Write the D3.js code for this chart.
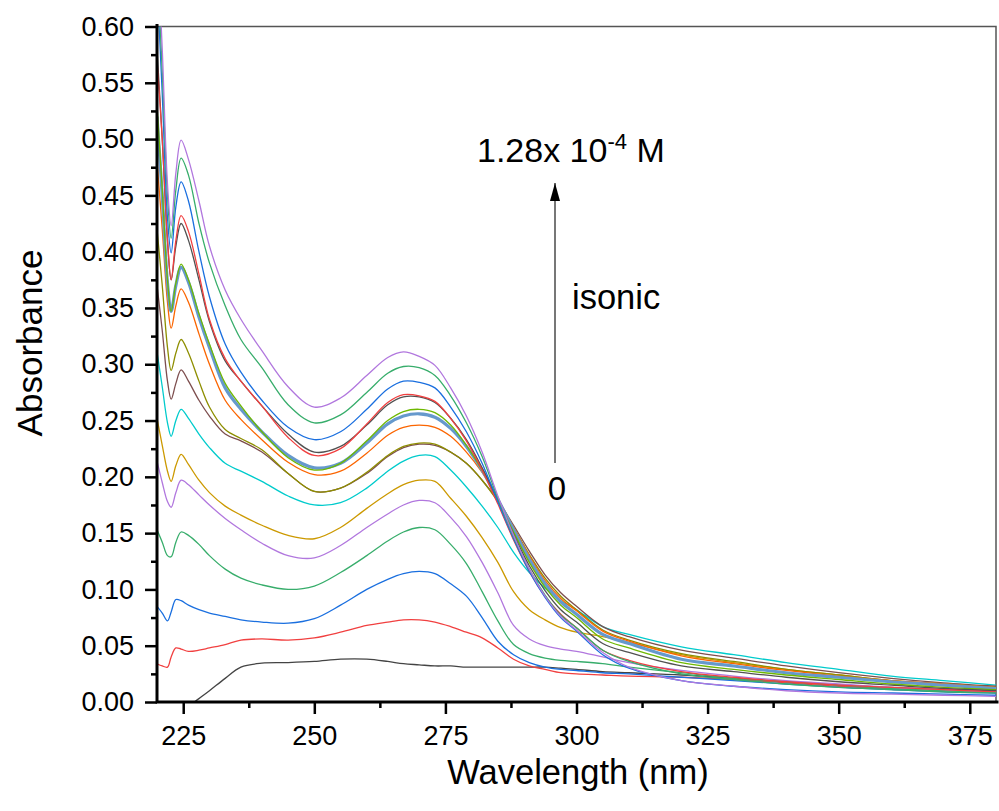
<!DOCTYPE html>
<html>
<head>
<meta charset="utf-8">
<script src="https://cdn.jsdelivr.net/npm/d3@7"></script>
<style>
  html, body { margin: 0; padding: 0; background: #fff; }
  svg { display: block; font-family: "Liberation Sans", Arial, sans-serif; }
</style>
</head>
<body>
<div id="chart"></div>
<script>
// Wavelength grid (nm) shared by every spectrum
const wavelengths = [220, 221, 222, 222.7, 223.6, 224.6, 226, 228, 230, 233, 236, 240, 245, 250, 255, 260, 264, 267, 270, 273, 276, 279, 282, 285, 288, 291, 294, 297, 300, 305, 310, 320, 330, 340, 350, 360, 370, 380];

// Absorbance spectra, lowest concentration (0) first
const s01 = [-0.025, -0.021, -0.018, -0.015, -0.012, -0.008, -0.004, 0.003, 0.010, 0.021, 0.031, 0.0345, 0.035, 0.036, 0.038, 0.038, 0.036, 0.034, 0.033, 0.032, 0.032, 0.031, 0.031, 0.031, 0.031, 0.031, 0.031, 0.030, 0.029, 0.027, 0.026, 0.024, 0.021, 0.018, 0.015, 0.013, 0.011, 0.010];
const s02 = [0.034, 0.032, 0.031, 0.040, 0.048, 0.047, 0.045, 0.046, 0.048, 0.051, 0.055, 0.056, 0.055, 0.057, 0.062, 0.068, 0.071, 0.073, 0.073, 0.071, 0.067, 0.062, 0.057, 0.048, 0.038, 0.032, 0.029, 0.026, 0.025, 0.024, 0.023, 0.022, 0.020, 0.017, 0.014, 0.012, 0.011, 0.010];
const s03 = [0.085, 0.079, 0.072, 0.080, 0.091, 0.090, 0.086, 0.082, 0.079, 0.076, 0.073, 0.071, 0.070, 0.074, 0.086, 0.100, 0.109, 0.114, 0.116, 0.114, 0.105, 0.094, 0.075, 0.054, 0.042, 0.035, 0.031, 0.029, 0.028, 0.026, 0.025, 0.022, 0.019, 0.016, 0.013, 0.011, 0.009, 0.008];
const s04 = [0.153, 0.142, 0.130, 0.129, 0.142, 0.151, 0.148, 0.140, 0.130, 0.118, 0.110, 0.104, 0.100, 0.103, 0.115, 0.130, 0.143, 0.151, 0.155, 0.153, 0.140, 0.123, 0.098, 0.072, 0.051, 0.043, 0.039, 0.037, 0.036, 0.034, 0.031, 0.026, 0.021, 0.018, 0.015, 0.012, 0.010, 0.009];
const s05 = [0.214, 0.195, 0.178, 0.173, 0.186, 0.197, 0.193, 0.184, 0.175, 0.163, 0.153, 0.141, 0.130, 0.128, 0.139, 0.155, 0.167, 0.175, 0.179, 0.177, 0.164, 0.147, 0.124, 0.097, 0.068, 0.056, 0.050, 0.047, 0.045, 0.040, 0.035, 0.028, 0.023, 0.019, 0.016, 0.013, 0.011, 0.009];
const s06 = [0.252, 0.228, 0.205, 0.196, 0.210, 0.220, 0.211, 0.197, 0.186, 0.174, 0.166, 0.157, 0.148, 0.145, 0.155, 0.172, 0.185, 0.193, 0.197, 0.196, 0.181, 0.165, 0.146, 0.124, 0.098, 0.082, 0.073, 0.066, 0.062, 0.058, 0.053, 0.042, 0.035, 0.029, 0.024, 0.019, 0.016, 0.013];
const s07 = [0.311, 0.280, 0.248, 0.236, 0.250, 0.260, 0.252, 0.238, 0.226, 0.212, 0.205, 0.196, 0.183, 0.175, 0.177, 0.190, 0.205, 0.214, 0.219, 0.218, 0.206, 0.191, 0.174, 0.155, 0.133, 0.115, 0.101, 0.090, 0.082, 0.067, 0.060, 0.049, 0.042, 0.035, 0.029, 0.023, 0.019, 0.015];
const s08 = [0.370, 0.330, 0.285, 0.269, 0.283, 0.295, 0.285, 0.268, 0.254, 0.238, 0.232, 0.222, 0.203, 0.187, 0.190, 0.203, 0.218, 0.226, 0.229, 0.228, 0.222, 0.212, 0.197, 0.179, 0.157, 0.134, 0.113, 0.097, 0.085, 0.067, 0.058, 0.046, 0.039, 0.032, 0.026, 0.021, 0.017, 0.014];
const s09 = [0.420, 0.370, 0.315, 0.2945, 0.310, 0.322, 0.310, 0.285, 0.262, 0.242, 0.234, 0.224, 0.203, 0.187, 0.190, 0.204, 0.219, 0.227, 0.230, 0.229, 0.222, 0.212, 0.197, 0.178, 0.155, 0.131, 0.110, 0.094, 0.082, 0.064, 0.055, 0.043, 0.036, 0.029, 0.024, 0.019, 0.016, 0.013];
const s10 = [0.480, 0.420, 0.355, 0.332, 0.352, 0.367, 0.355, 0.327, 0.300, 0.268, 0.251, 0.233, 0.213, 0.202, 0.205, 0.221, 0.237, 0.244, 0.246, 0.244, 0.236, 0.222, 0.204, 0.181, 0.155, 0.130, 0.108, 0.092, 0.081, 0.063, 0.054, 0.041, 0.034, 0.028, 0.023, 0.019, 0.016, 0.013];
const s11 = [0.520, 0.450, 0.372, 0.347, 0.370, 0.386, 0.373, 0.342, 0.315, 0.279, 0.260, 0.240, 0.219, 0.208, 0.212, 0.230, 0.247, 0.254, 0.256, 0.253, 0.243, 0.227, 0.206, 0.180, 0.153, 0.127, 0.105, 0.089, 0.078, 0.060, 0.052, 0.038, 0.032, 0.026, 0.022, 0.018, 0.015, 0.012];
const s12 = [0.530, 0.455, 0.375, 0.347, 0.372, 0.389, 0.375, 0.345, 0.318, 0.283, 0.263, 0.240, 0.217, 0.206, 0.212, 0.232, 0.250, 0.258, 0.260, 0.257, 0.246, 0.228, 0.206, 0.179, 0.151, 0.124, 0.102, 0.086, 0.075, 0.056, 0.048, 0.035, 0.029, 0.024, 0.020, 0.016, 0.013, 0.011];
const s13 = [0.580, 0.500, 0.410, 0.375, 0.405, 0.425, 0.410, 0.375, 0.338, 0.303, 0.285, 0.263, 0.238, 0.222, 0.227, 0.246, 0.264, 0.271, 0.271, 0.266, 0.252, 0.233, 0.208, 0.179, 0.149, 0.121, 0.099, 0.082, 0.071, 0.052, 0.044, 0.032, 0.027, 0.022, 0.018, 0.015, 0.012, 0.010];
const s14 = [0.570, 0.500, 0.410, 0.375, 0.410, 0.432, 0.418, 0.380, 0.340, 0.305, 0.285, 0.263, 0.235, 0.219, 0.225, 0.247, 0.266, 0.273, 0.272, 0.267, 0.252, 0.232, 0.206, 0.176, 0.144, 0.116, 0.094, 0.078, 0.066, 0.046, 0.037, 0.027, 0.022, 0.018, 0.015, 0.013, 0.011, 0.009];
const s15 = [0.640, 0.540, 0.430, 0.399, 0.440, 0.462, 0.445, 0.400, 0.360, 0.318, 0.293, 0.268, 0.244, 0.233, 0.240, 0.260, 0.278, 0.285, 0.284, 0.279, 0.262, 0.240, 0.212, 0.178, 0.145, 0.116, 0.093, 0.075, 0.063, 0.042, 0.030, 0.019, 0.014, 0.011, 0.009, 0.008, 0.007, 0.006];
const s16 = [0.660, 0.560, 0.450, 0.412, 0.455, 0.483, 0.468, 0.425, 0.390, 0.352, 0.322, 0.297, 0.264, 0.248, 0.255, 0.275, 0.292, 0.298, 0.297, 0.290, 0.272, 0.248, 0.218, 0.181, 0.147, 0.118, 0.095, 0.077, 0.066, 0.046, 0.036, 0.025, 0.020, 0.016, 0.013, 0.011, 0.009, 0.008];
const s17 = [0.680, 0.580, 0.460, 0.423, 0.470, 0.499, 0.482, 0.445, 0.405, 0.366, 0.340, 0.312, 0.280, 0.262, 0.270, 0.290, 0.306, 0.311, 0.307, 0.299, 0.279, 0.254, 0.222, 0.183, 0.148, 0.118, 0.094, 0.076, 0.064, 0.044, 0.031, 0.019, 0.014, 0.010, 0.008, 0.007, 0.006, 0.005];

const spectra = [s01, s02, s03, s04, s05, s06, s07, s08, s09, s10, s11, s12, s13, s14, s15, s16, s17];
const lineColors = ["#444444", "#F14040", "#1A6FDF", "#37AD6B", "#B177DE", "#CC9900", "#00CBCC", "#7D4E4E", "#8E8E00", "#FB6501", "#6699CC", "#6FB802", "#515151", "#F14040", "#1A6FDF", "#37AD6B", "#B177DE"];
const lineWidths = [1.3, 1.3, 1.3, 1.3, 1.3, 1.3, 1.3, 1.3, 1.3, 1.3, 3.2, 1.3, 1.3, 1.3, 1.3, 1.3, 1.3];

// Axis ticks
const xMajor = [225, 250, 275, 300, 325, 350, 375];
const xMinor = [237.5, 262.5, 287.5, 312.5, 337.5, 362.5];
const yMajor = [0, 0.05, 0.10, 0.15, 0.20, 0.25, 0.30, 0.35, 0.40, 0.45, 0.50, 0.55, 0.60];
const yMinor = [0.025, 0.075, 0.125, 0.175, 0.225, 0.275, 0.325, 0.375, 0.425, 0.475, 0.525, 0.575];

const W = 999, H = 811;
const plot = {left: 157, right: 996, top: 26.5, bottom: 702};

const svg = d3.select("#chart").append("svg")
    .attr("width", W)
    .attr("height", H);

const x = d3.scaleLinear().domain([220, 380]).range([plot.left, plot.right]);
const y = d3.scaleLinear().domain([0, 0.6]).range([plot.bottom, plot.top]);

svg.append("clipPath").attr("id", "clip")
  .append("rect")
    .attr("x", plot.left)
    .attr("y", plot.top)
    .attr("width", plot.right - plot.left)
    .attr("height", plot.bottom - plot.top);

// frame: top and right edges
svg.append("path")
    .attr("d", `M${plot.left},${plot.top}H${plot.right}V${plot.bottom}`)
    .attr("fill", "none")
    .attr("stroke", "#555")
    .attr("stroke-width", 1.5);

// spectra
const line = d3.line()
    .x((d, i) => x(wavelengths[i]))
    .y(d => y(d))
    .curve(d3.curveCatmullRom.alpha(0.5));

svg.append("g")
    .attr("clip-path", "url(#clip)")
  .selectAll("path")
  .data(spectra)
  .enter()
  .append("path")
    .attr("d", d => line(d))
    .attr("fill", "none")
    .attr("stroke", (d, i) => lineColors[i])
    .attr("stroke-width", (d, i) => lineWidths[i])
    .attr("stroke-linejoin", "round");

// axes
function styleAxis(g) {
    g.select(".domain").remove();
    g.selectAll(".tick line").attr("stroke", "#000").attr("stroke-width", 2.5);
    g.selectAll(".tick text").attr("fill", "#000").attr("font-size", 27)
      .attr("font-family", "'Liberation Sans', Arial, sans-serif");
}

svg.append("g")
    .attr("transform", `translate(0,${plot.bottom})`)
    .call(d3.axisBottom(x).tickValues(xMajor).tickSize(12).tickPadding(12).tickFormat(d3.format("d")))
    .call(styleAxis);

svg.append("g")
    .attr("transform", `translate(0,${plot.bottom})`)
    .call(d3.axisBottom(x).tickValues(xMinor).tickSize(6).tickFormat(""))
    .call(styleAxis);

svg.append("g")
    .attr("transform", `translate(${plot.left},0)`)
    .call(d3.axisLeft(y).tickValues(yMajor).tickSize(12).tickPadding(11).tickFormat(d3.format(".2f")))
    .call(styleAxis);

svg.append("g")
    .attr("transform", `translate(${plot.left},0)`)
    .call(d3.axisLeft(y).tickValues(yMinor).tickSize(6).tickFormat(""))
    .call(styleAxis);

// axis lines
svg.append("path")
    .attr("d", `M${plot.left},${plot.top - 1}V${plot.bottom}H${plot.right + 1}`)
    .attr("fill", "none")
    .attr("stroke", "#000")
    .attr("stroke-width", 3)
    .attr("stroke-linecap", "square");

// axis titles
svg.append("text")
    .attr("x", 578)
    .attr("y", 784)
    .attr("text-anchor", "middle")
    .attr("font-size", 34.5)
    .text("Wavelength (nm)");

svg.append("text")
    .attr("transform", "translate(42,343) rotate(-90)")
    .attr("text-anchor", "middle")
    .attr("font-size", 35)
    .text("Absorbance");

// concentration arrow annotation
svg.append("defs").append("marker")
    .attr("id", "arrowhead")
    .attr("viewBox", "0 0 10 18")
    .attr("refX", 5).attr("refY", 0)
    .attr("markerWidth", 10).attr("markerHeight", 18)
    .attr("markerUnits", "userSpaceOnUse")
    .attr("orient", "0")
  .append("path")
    .attr("d", "M0,18L5,0L10,18Z")
    .attr("fill", "#000");

svg.append("line")
    .attr("x1", 555).attr("x2", 555)
    .attr("y1", 463).attr("y2", 183)
    .attr("stroke", "#555")
    .attr("stroke-width", 1.6)
    .attr("marker-end", "url(#arrowhead)");

const conc = svg.append("text")
    .attr("x", 477)
    .attr("y", 162)
    .attr("font-size", 34);
conc.append("tspan").text("1.28x 10");
conc.append("tspan").attr("dy", -13).attr("font-size", 22).text("-4");
conc.append("tspan").attr("dy", 13).text(" M");

svg.append("text")
    .attr("x", 572)
    .attr("y", 309)
    .attr("font-size", 34.5)
    .text("isonic");

svg.append("text")
    .attr("x", 557)
    .attr("y", 500)
    .attr("text-anchor", "middle")
    .attr("font-size", 33)
    .text("0");
</script>
</body>
</html>
